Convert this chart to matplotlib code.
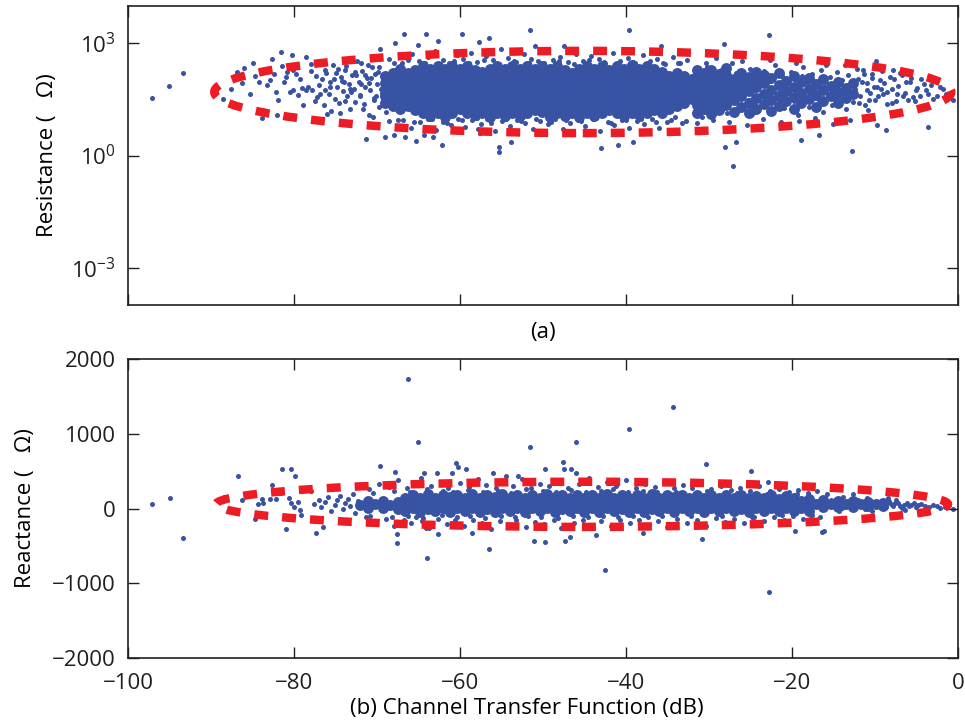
import matplotlib
matplotlib.use("Agg")
import matplotlib.pyplot as plt
from matplotlib.patches import Ellipse
from matplotlib.ticker import NullLocator

# (a) scattered single measurements: channel transfer function (dB) vs resistance (ohm)
top_db = [
    -97.1, -95.0, -93.4, -88.5, -86.9, -86.2, -84.7, -84.2, -83.7, -83.8,
    -82.9, -82.7, -82.2, -81.6, -81.5, -80.9, -80.8, -80.2, -80.1, -79.8,
    -80.5, -80.1, -79.5, -79.0, -78.6, -80.7, -78.0, -77.4, -77.8, -77.5,
    -77.0, -76.6, -76.4, -76.1, -75.8, -75.6, -75.3, -75.0, -74.8, -74.5,
    -74.3, -74.1, -73.9, -73.6, -73.4, -73.2, -73.0, -72.8, -72.6, -72.4,
    -72.2, -72.0, -71.8, -71.6, -71.4, -71.2, -71.0, -70.8, -70.6, -70.4,
    -70.2, -70.0, -69.8, -69.6, -69.4, -69.2, -71.3, -69.0, -68.0, -66.6,
    -67.8, -66.7, -65.0, -64.1, -62.7, -59.8, -57.7, -56.5, -65.3, -64.3,
    -63.2, -62.2, -57.8, -57.6, -55.3, -55.3, -53.8, -51.6, -51.0, -47.5,
    -43.0, -41.0, -39.2, -39.6, -35.8, -28.2, -28.1, -26.8, -27.1, -22.8,
    -18.9, -16.7, -12.8, -16.4, -13.6, -9.9, -9.8, -8.7, -3.6, -0.6,
    -68.5, -67.0, -65.8, -64.9, -63.9, -63.0, -62.1, -61.3, -60.4, -59.6,
    -58.7, -57.9, -56.9, -56.0, -55.0, -54.2, -53.3, -52.3, -51.4, -50.6,
    -49.7, -48.8, -47.9, -47.0, -46.0, -45.2, -44.2, -43.3, -42.5, -41.6,
    -40.7, -39.8, -38.9, -38.0, -37.1, -36.2, -35.3, -34.3, -33.5, -32.6,
    -68.6, -67.6, -66.9, -65.9, -64.8, -63.8, -62.9, -62.0, -61.1, -60.2,
    -59.4, -58.5, -57.5, -56.7, -55.8, -54.9, -54.0, -53.1, -52.2, -51.2,
    -50.3, -49.4, -48.5, -47.6, -46.7, -45.8, -44.9, -44.0, -43.1, -42.2,
    -41.4, -40.5, -39.6, -38.7, -37.8, -36.9, -36.0, -35.0, -34.1, -33.2,
    -31.6, -31.3, -31.0, -30.8, -30.5, -30.2, -30.0, -29.7, -29.4, -29.1,
    -28.9, -28.6, -28.3, -28.0, -27.8, -27.5, -27.2, -27.0, -26.7, -26.4,
    -26.2, -25.9, -25.6, -25.3, -25.1, -24.8, -24.5, -24.2, -24.0, -23.7,
    -23.4, -23.1, -22.9, -22.6, -22.3, -22.0, -21.8, -21.5, -21.2, -20.9,
    -20.7, -20.4, -20.1, -19.8, -19.6, -19.3, -19.0, -18.7, -18.5, -18.2,
    -17.9, -17.6, -17.4, -17.1, -16.8, -16.5, -16.3, -16.0, -15.7, -15.4,
    -15.2, -14.9, -14.6, -14.3, -14.0, -13.8, -13.5, -13.2, -12.9, -12.7,
    -12.4, -12.1, -11.8, -11.5, -11.2, -10.9, -10.6, -10.3, -10.0, -9.7,
    -9.4, -9.0, -8.6, -8.2, -7.9, -7.5, -7.4, -7.0, -6.6, -6.3,
    -6.0, -5.4, -5.0, -4.9, -4.4, -3.6, -3.2, -2.5, -1.8, -1.0,
    -31.1, -29.9, -28.4, -27.1, -25.8, -24.4, -23.0, -21.6, -20.2, -18.8,
    -17.5, -16.1, -14.8, -13.3, -30.4, -29.2, -26.0, -22.7, -19.5, -15.9,
    -31.5, -29.5, -27.6, -25.4, -23.5, -21.3, -19.2, -17.2, -15.1, -13.0,
    -67.9, -66.2, -64.2, -62.4, -60.7, -58.9, -57.1, -55.3, -53.5, -51.7,
    -49.9, -48.1, -46.3, -44.5, -42.7, -40.9, -39.1, -37.3, -35.5, -33.7,
    -67.5, -65.5, -63.4, -61.6, -59.8, -58.0, -56.2, -54.4, -52.6, -50.8,
    -49.0, -47.2, -45.4, -43.6, -41.8, -40.0, -38.2, -36.4, -34.6, -32.8,
    -76.9, -76.3, -75.7, -75.2, -74.6, -74.0, -73.3, -72.7, -72.1, -71.5,
    -70.9, -70.3, -69.7, -69.5, -68.9, -73.7, -71.9, -70.5, -76.0, -74.9,
    -87.6, -86.0, -85.3, -84.9, -83.2, -82.4, -81.9, -81.2, -80.4, -79.3,
    -78.9, -78.3, -77.9, -77.2, -76.7, -76.2, -75.5, -74.7, -74.2, -73.8,
    -73.1, -72.5, -71.9, -71.7, -71.1, -70.7, -70.1, -69.9, -78.5, -82.0,
    -11.9, -11.6, -11.3, -11.0, -10.7, -10.4, -10.1, -9.6, -9.2, -8.9,
    -8.5, -8.0, -7.7, -7.2, -6.8, -6.4, -5.8, -5.2, -4.6, -4.1,
    -3.8, -3.0, -2.8, -2.2, -1.4, -12.2, -10.8, -9.3, -7.8, -5.6,
]
top_res = [
    35, 74, 166, 32, 170, 87, 138, 91, 16.6, 10.2,
    102, 390, 51, 600, 245, 126, 170, 500, 190, 148,
    50, 55, 41, 65, 58, 10, 288, 131, 55, 28,
    75, 110, 22, 160, 44, 90, 260, 33, 68, 14,
    125, 52, 200, 38, 82, 18, 145, 62, 27, 330,
    95, 42, 180, 24, 70, 120, 12, 56, 230, 34,
    150, 80, 20, 690, 48, 105, 2.8, 3.2, 3.5, 3.1,
    1050, 1740, 920, 1740, 1150, 1780, 1110, 1390, 2.4, 3.6,
    3.1, 1.95, 5.1, 4.0, 1.74, 1.23, 2.3, 2290, 830, 830,
    1.6, 1.9, 2.3, 2290, 830, 955, 1.74, 2.3, 0.54, 1700,
    2.6, 3.6, 1.35, 350, 260, 340, 6.4, 4.8, 5.9, 30,
    380, 300, 520, 330, 420, 610, 350, 300, 480, 390,
    550, 320, 450, 360, 700, 400, 310, 520, 380, 330,
    600, 360, 420, 310, 530, 340, 450, 380, 300, 560,
    340, 410, 300, 480, 330, 390, 280, 440, 300, 350,
    8.5, 6.2, 9.0, 5.5, 7.8, 9.5, 4.8, 8.0, 6.5, 9.2,
    5.8, 8.8, 7.0, 9.6, 4.5, 8.2, 6.0, 9.0, 7.4, 5.2,
    8.6, 6.8, 9.3, 5.0, 7.6, 8.9, 6.2, 9.4, 4.6, 7.9,
    6.4, 9.1, 5.6, 8.3, 7.0, 9.6, 5.4, 8.1, 10.5, 7.2,
    24, 150, 60, 11, 95, 230, 38, 130, 17, 72,
    44, 190, 27, 105, 14, 65, 290, 36, 160, 52,
    21, 88, 120, 31, 210, 13, 58, 140, 40, 76,
    180, 25, 48, 100, 16, 260, 68, 33, 135, 19,
    85, 46, 170, 28, 110, 12, 62, 230, 37, 90,
    20, 150, 54, 75, 30, 200, 15, 95, 42, 125,
    23, 66, 175, 35, 105, 50, 18, 140, 80, 27,
    60, 115, 40, 190, 22, 85, 48, 150, 31, 70,
    105, 45, 24, 130, 62, 29, 45, 160, 38, 91,
    30, 36, 58, 65, 110, 45, 75, 40, 60, 35,
    40, 20, 70, 110, 55, 26, 140, 50, 60, 135,
    100, 70, 37, 60, 300, 400, 330, 350, 300, 260,
    7.5, 9.0, 8.0, 6.6, 9.5, 7.8, 8.5, 9.8, 7.0, 9.0,
    290, 350, 300, 280, 330, 290, 370, 285, 340, 295,
    300, 330, 285, 360, 310, 290, 320, 280, 300, 290,
    9.0, 8.0, 9.5, 7.2, 8.8, 9.8, 7.5, 9.2, 8.3, 9.6,
    7.8, 9.1, 8.6, 9.9, 7.4, 8.9, 9.4, 8.1, 9.0, 8.5,
    45, 190, 70, 115, 25, 95, 60, 170, 40, 140,
    85, 30, 240, 62, 15, 250, 300, 11, 13, 160,
    60, 220, 45, 300, 75, 150, 30, 95, 240, 110,
    22, 70, 180, 36, 320, 58, 16, 210, 100, 28,
    50, 145, 80, 18, 260, 120, 40, 175, 420, 12,
    25, 90, 150, 55, 30, 120, 70, 38, 180, 85,
    50, 26, 110, 72, 140, 48, 95, 28, 40, 80,
    55, 32, 100, 70, 45, 210, 17, 60, 200, 120,
]

# (a) dense cloud: one line per band of resistance, then the looser part right of -32 dB
top_core_db = [
    -63.6, -61.8, -58.2, -56.4, -54.6, -52.8, -49.2, -47.4, -45.6, -43.8, -40.2, -38.4,
    -67.2, -65.4, -63.6, -61.8, -60.0, -58.2, -56.4, -54.6, -52.8, -51.0, -49.2, -47.4, -45.6, -43.8, -42.0, -40.2, -38.4, -36.6, -34.8,
    -69.0, -67.2, -65.4, -63.6, -61.8, -60.0, -58.2, -56.4, -54.6, -52.8, -51.0, -49.2, -47.4, -45.6, -43.8, -42.0, -40.2, -38.4, -36.6, -34.8, -33.0,
    -69.0, -67.2, -65.4, -63.6, -61.8, -60.0, -58.2, -56.4, -54.6, -52.8, -51.0, -49.2, -47.4, -45.6, -43.8, -42.0, -40.2, -38.4, -36.6, -34.8, -33.0,
    -69.0, -67.2, -65.4, -63.6, -61.8, -60.0, -58.2, -56.4, -54.6, -52.8, -51.0, -49.2, -47.4, -45.6, -43.8, -42.0, -40.2, -38.4, -36.6, -34.8, -33.0,
    -69.0, -67.2, -65.4, -63.6, -61.8, -60.0, -58.2, -56.4, -54.6, -52.8, -51.0, -49.2, -47.4, -45.6, -43.8, -42.0, -40.2, -38.4, -36.6, -34.8, -33.0,
    -69.0, -67.2, -65.4, -63.6, -61.8, -60.0, -58.2, -56.4, -54.6, -52.8, -51.0, -49.2, -47.4, -45.6, -43.8, -42.0, -40.2, -38.4, -36.6, -34.8, -33.0,
    -67.2, -65.4, -63.6, -61.8, -60.0, -58.2, -56.4, -54.6, -52.8, -51.0, -49.2, -47.4, -45.6, -43.8, -42.0, -40.2, -38.4, -36.6,
    -64.5, -62.7, -60.9, -59.1, -57.3, -55.5, -53.7, -51.9, -50.1, -48.3, -46.5, -44.7, -42.9, -41.1, -39.3, -37.5, -35.7,
    -68.1, -66.3, -64.5, -62.7, -60.9, -59.1, -57.3, -55.5, -53.7, -51.9, -50.1, -48.3, -46.5, -44.7, -42.9, -41.1, -39.3, -37.5, -35.7, -33.9,
    -68.1, -66.3, -64.5, -62.7, -60.9, -59.1, -57.3, -55.5, -53.7, -51.9, -50.1, -48.3, -46.5, -44.7, -42.9, -41.1, -39.3, -37.5, -35.7, -33.9, -32.1,
    -68.1, -66.3, -64.5, -62.7, -60.9, -59.1, -57.3, -55.5, -53.7, -51.9, -50.1, -48.3, -46.5, -44.7, -42.9, -41.1, -39.3, -37.5, -35.7, -33.9, -32.1,
    -68.1, -66.3, -64.5, -62.7, -60.9, -59.1, -57.3, -55.5, -53.7, -51.9, -50.1, -48.3, -46.5, -44.7, -42.9, -41.1, -39.3, -37.5, -35.7, -33.9, -32.1,
    -68.1, -66.3, -64.5, -62.7, -60.9, -59.1, -57.3, -55.5, -53.7, -51.9, -50.1, -48.3, -46.5, -44.7, -42.9, -41.1, -39.3, -37.5, -35.7, -33.9, -32.1,
    -68.1, -66.3, -64.5, -62.7, -60.9, -59.1, -57.3, -55.5, -53.7, -51.9, -50.1, -48.3, -46.5, -44.7, -42.9, -41.1, -39.3, -37.5, -35.7, -33.9,
    -64.5, -62.7, -60.9, -59.1, -55.5, -53.7, -51.9, -50.1, -48.3, -44.7, -42.9, -41.1, -39.3, -37.5,
    -31.5, -31.5, -31.5, -31.5, -31.5, -31.5, -31.5,
    -30.6, -30.6, -30.6, -30.6, -30.6, -30.6,
    -29.7, -29.7, -29.7, -29.7, -29.7, -29.7, -29.7,
    -28.8, -28.8, -28.8, -28.8, -28.8, -28.8,
    -27.9, -27.9, -27.9, -27.9, -27.9, -27.9,
    -27.0, -27.0, -27.0, -27.0, -27.0,
    -26.1, -26.1, -26.1, -26.1, -26.1,
    -25.2, -25.2, -25.2, -25.2, -25.2,
    -24.3, -24.3, -24.3, -24.3, -24.3,
    -23.4, -23.4, -23.4, -23.4,
    -22.5, -22.5, -22.5, -22.5,
    -21.6, -21.6, -21.6, -21.6,
    -20.7, -20.7, -20.7,
    -19.8, -19.8, -19.8, -19.8,
    -18.9, -18.9, -18.9,
    -18.0, -18.0, -18.0,
    -17.1, -17.1, -17.1,
    -16.2, -16.2, -16.2,
    -15.3, -15.3,
    -14.4, -14.4, -14.4,
    -13.5, -13.5,
    -12.6, -12.6,
]
top_core_res = [
    11.5, 11.0, 11.8, 10.8, 11.2, 11.6, 10.9, 11.3, 11.0, 11.7, 11.4, 11.9,
    17.5, 16.8, 17.2, 16.5, 17.8, 17.0, 16.6, 17.4, 17.1, 16.9, 17.6, 16.7, 17.3, 17.0, 16.8, 17.5, 17.2, 16.9, 17.4,
    26, 25.2, 25.8, 26.3, 25.5, 25.9, 25.1, 26.2, 25.6, 25.4, 26.0, 25.7, 25.3, 26.1, 25.8, 25.5, 26.4, 25.2, 25.9, 26.0, 25.6,
    39, 38.4, 39.5, 38.8, 39.2, 38.6, 39.7, 38.9, 38.3, 39.4, 39.0, 38.7, 39.3, 38.5, 39.6, 38.9, 39.1, 38.6, 39.4, 38.8, 39.2,
    59, 58.2, 59.6, 58.8, 59.3, 58.5, 60.0, 58.9, 58.1, 59.4, 59.1, 58.6, 59.8, 58.4, 59.2, 58.7, 59.5, 58.3, 59.0, 58.9, 59.7,
    89, 88.2, 90.0, 88.6, 89.5, 88.9, 90.3, 89.1, 88.4, 89.7, 89.2, 88.7, 90.1, 88.5, 89.4, 88.8, 89.9, 88.3, 89.6, 89.0, 89.3,
    135, 133, 137, 134, 136, 132, 138, 135, 133, 136, 134, 137, 135, 132, 136, 134, 138, 133, 135, 136, 134,
    204, 200, 208, 202, 206, 199, 210, 203, 201, 207, 205, 198, 209, 204, 200, 206, 202, 208,
    13.8, 13.5, 14.1, 13.6, 14.0, 13.7, 13.9, 13.4, 14.2, 13.8, 13.6, 14.0, 13.5, 13.9, 13.7, 14.1, 13.8,
    21, 20.6, 21.3, 20.8, 21.1, 20.5, 21.4, 20.9, 20.7, 21.2, 20.8, 21.0, 20.6, 21.3, 20.9, 21.1, 20.7, 21.2, 20.8, 21.0,
    31.6, 31.0, 32.2, 31.4, 31.8, 31.1, 32.0, 31.5, 31.2, 31.9, 31.6, 31.3, 32.1, 31.0, 31.7, 31.4, 31.9, 31.2, 31.8, 31.5, 31.6,
    48, 47.3, 48.5, 47.7, 48.2, 47.5, 48.6, 47.9, 47.4, 48.3, 48.0, 47.6, 48.4, 47.2, 48.1, 47.8, 48.5, 47.5, 48.0, 47.7, 48.2,
    72, 71.5, 73.1, 72.2, 72.8, 71.8, 73.0, 72.4, 71.6, 72.9, 72.5, 71.9, 73.2, 72.0, 72.7, 72.1, 73.0, 71.7, 72.6, 72.3, 72.8,
    110, 108, 112, 109, 111, 108, 113, 110, 109, 112, 110, 108, 111, 109, 112, 110, 113, 108, 111, 109, 110,
    166, 163, 169, 165, 168, 162, 170, 166, 164, 168, 165, 167, 163, 169, 166, 164, 168, 165, 167, 166,
    251, 246, 255, 249, 253, 247, 256, 250, 248, 254, 252, 245, 257, 250,
    14, 22, 35, 55, 85, 130, 200,
    18, 28, 44, 68, 105, 165,
    13, 21, 33, 52, 80, 125, 190,
    17, 27, 42, 65, 100, 155,
    23, 36, 58, 90, 140, 215,
    15, 30, 48, 75, 115,
    20, 40, 62, 98, 160,
    14, 26, 52, 82, 130,
    18, 34, 70, 110, 175,
    24, 45, 88, 140,
    16, 30, 58, 120,
    21, 40, 75, 160,
    28, 52, 100,
    18, 36, 68, 135,
    25, 48, 92,
    32, 60, 120,
    20, 42, 80,
    28, 55, 110,
    38, 72,
    25, 50, 95,
    35, 65,
    45, 85,
]

# (b) scattered single measurements: reactance (ohm)
bot_db = [
    -66.2, -65.0, -34.3, -39.6, -46.0, -51.6, -30.3, -42.5, -22.8, -56.5,
    -64.0, -93.4, -97.1, -94.9, -86.8, -81.5, -80.3, -79.9, -69.6, -67.6,
    -67.6, -88.4, -86.2, -84.3, -83.8, -83.7, -84.7, -82.7, -82.9, -82.2,
    -81.6, -81.0, -80.6, -80.4, -80.0, -79.5, -79.3, -79.1, -78.0, -77.3,
    -76.5, -77.6, -77.0, -76.8, -76.2, -75.9, -75.5, -75.1, -74.8, -74.4,
    -74.1, -73.8, -73.5, -73.2, -72.9, -72.6, -72.3, -67.8, -60.5, -60.2,
    -59.3, -47.6, -47.5, -49.8, -64.3, -62.8, -60.9, -56.0, -54.4, -53.0,
    -51.1, -49.7, -47.4, -46.8, -62.7, -58.6, -64.1, -65.3, -43.6, -37.9,
    -30.8, -19.6, -16.4, -16.1, -12.7, -8.4, -24.9, -22.9, -46.6, -46.0,
    -71.0, -69.8, -68.6, -67.5, -66.4, -65.6, -64.7, -63.5, -62.3, -61.4,
    -60.0, -58.9, -57.8, -56.9, -55.7, -54.8, -53.6, -52.5, -51.5, -50.4,
    -49.3, -48.2, -47.0, -45.6, -44.5, -43.4, -42.3, -41.2, -40.0, -38.8,
    -37.7, -36.5, -35.4, -34.2, -33.1, -32.0, -30.9, -29.8, -28.6, -27.4,
    -26.3, -25.1, -24.0, -22.7, -21.6, -20.4, -19.3, -18.1, -17.0, -15.8,
    -71.3, -70.1, -68.9, -67.9, -66.7, -65.9, -64.6, -63.7, -62.6, -61.6,
    -60.6, -59.5, -58.4, -57.4, -56.3, -55.2, -54.1, -53.2, -52.0, -50.9,
    -49.9, -48.7, -47.8, -46.3, -45.2, -44.1, -43.0, -41.8, -40.7, -39.5,
    -38.4, -37.2, -36.1, -35.0, -33.8, -32.7, -31.5, -30.4, -29.2, -28.1,
    -27.0, -25.8, -24.6, -23.4, -22.2, -21.0, -19.9, -18.7, -17.6, -16.6,
    -15.3, -14.8, -14.3, -13.8, -13.2, -12.6, -12.0, -11.5, -11.0, -10.4,
    -9.9, -9.4, -8.9, -8.3, -7.8, -7.2, -6.7, -6.1, -5.6, -5.0,
    -4.5, -4.0, -3.5, -3.0, -2.5, -2.2, -1.6, -0.6, -7.5, -6.4,
    -15.0, -14.5, -14.0, -13.5, -13.0, -12.3, -11.8, -11.2, -10.7, -10.1,
    -9.6, -9.2, -8.7, -8.1, -7.6, -7.0, -6.5, -5.9, -5.3, -4.8,
    -70.5, -68.0, -66.0, -64.0, -62.0, -60.8, -59.0, -57.2, -55.4, -53.8,
    -52.0, -50.0, -48.4, -46.6, -44.8, -43.0, -41.6, -39.8, -38.0, -36.2,
    -70.8, -68.2, -66.2, -64.4, -62.2, -60.4, -58.8, -57.0, -55.0, -53.4,
    -51.8, -50.2, -48.2, -46.4, -44.6, -42.8, -41.0, -39.2, -37.4, -35.6,
    -34.0, -32.2, -30.2, -28.4, -26.6, -24.8, -23.0, -21.2, -19.4, -17.8,
]
bot_reac = [
    1730, 893, 1358, 1064, 885, 827, 595, -823, -1117, -542,
    -666, -395, 60, 140, 440, 530, 533, 440, 570, -458,
    -346, 150, 113, 60, 125, 80, -145, 313, 127, 127,
    210, -275, 136, 70, 16, 91, -20, -87, 234, -330,
    -252, 60, 120, 20, 85, 150, -30, 45, 110, 170,
    -10, 75, 130, 30, 200, -60, 95, 493, 605, 560,
    524, 618, 528, 528, 470, 470, 470, 470, 440, 440,
    -431, -444, -435, -385, -342, -333, -257, -118, -355, -323,
    -412, -297, -319, -297, 194, 136, 506, 350, 533, 470,
    260, 330, 290, 380, 270, 320, 410, 300, 360, 280,
    340, 290, 400, 310, 270, 360, 300, 390, 280, 330,
    300, 370, 280, 330, 410, 290, 350, 300, 380, 270,
    330, 290, 360, 280, 310, 270, 340, 260, 300, 250,
    280, 240, 300, 230, 260, 220, 250, 210, 230, 200,
    -120, -180, -140, -230, -150, -200, -170, -260, -140, -210,
    -160, -240, -150, -200, -280, -170, -220, -150, -250, -180,
    -210, -160, -260, -190, -150, -230, -170, -240, -160, -200,
    -150, -220, -170, -250, -140, -190, -160, -230, -130, -180,
    -140, -200, -120, -170, -110, -150, -100, -140, -90, -120,
    120, 30, -40, 160, 80, -10, 110, 50, 140, -30,
    90, 20, 60, 100, 30, 70, 10, 80, 50, 25,
    60, 40, 20, 50, 35, 2, 15, -8, 120, -20,
    60, 90, 10, 50, 120, 40, 70, -5, 95, 55,
    45, 75, 15, 55, 80, 40, 45, 30, 70, 45,
    210, 240, 220, 260, 230, 215, 250, 225, 240, 210,
    265, 230, 220, 245, 215, 235, 260, 225, 240, 215,
    -95, -110, -100, -125, -90, -115, -105, -130, -95, -120,
    -100, -115, -125, -95, -110, -105, -120, -100, -115, -95,
    220, -105, 235, -95, 210, -110, 200, -90, 190, -85,
]

# (b) dense band, one line per band of reactance
bot_core_db = [
    -66.6, -64.8, -63.0, -61.2, -59.4, -57.6, -55.8, -54.0, -52.2, -50.4, -48.6, -46.8, -45.0, -43.2, -41.4, -39.6, -37.8, -36.0, -34.2, -32.4, -30.6, -28.8, -27.0, -25.2, -23.4, -21.6, -19.8, -18.0,
    -70.2, -68.4, -66.6, -64.8, -63.0, -61.2, -59.4, -57.6, -55.8, -54.0, -52.2, -50.4, -48.6, -46.8, -45.0, -43.2, -41.4, -39.6, -37.8, -36.0, -34.2, -32.4, -30.6, -28.8, -27.0, -25.2, -23.4, -21.6, -19.8, -18.0,
    -66.6, -64.8, -63.0, -61.2, -59.4, -57.6, -55.8, -54.0, -52.2, -50.4, -48.6, -46.8, -45.0, -43.2, -41.4, -39.6, -37.8, -36.0, -34.2, -32.4, -30.6, -28.8, -27.0, -25.2, -23.4, -21.6, -19.8, -18.0,
    -69.3, -67.5, -65.7, -63.9, -62.1, -60.3, -58.5, -56.7, -54.9, -53.1, -51.3, -49.5, -47.7, -45.9, -44.1, -42.3, -40.5, -38.7, -36.9, -35.1, -33.3, -31.5, -29.7, -27.9, -26.1, -24.3, -22.5, -20.7, -18.9,
    -69.3, -67.5, -65.7, -63.9, -62.1, -60.3, -58.5, -56.7, -54.9, -53.1, -51.3, -49.5, -47.7, -45.9, -44.1, -42.3, -40.5, -38.7, -36.9, -35.1, -33.3, -31.5, -29.7, -27.9, -26.1, -24.3, -22.5, -20.7, -18.9,
    -65.7, -63.9, -62.1, -60.3, -58.5, -56.7, -54.9, -53.1, -51.3, -49.5, -47.7, -45.9, -44.1, -42.3, -40.5, -38.7, -36.9, -35.1, -33.3, -31.5, -29.7, -27.9, -26.1, -24.3, -22.5, -20.7,
    -16.2, -14.4, -12.6, -10.8, -9.0,
    -16.2, -14.4, -12.6, -10.8, -9.0,
    -17.1, -15.3, -13.5, -11.7, -9.9,
    -72.0, -71.1, -71.1,
]
bot_core_reac = [
    -35, -45, -40, -50, -38, -42, -48, -36, -44, -40, -52, -38, -46, -41, -35, -47, -43, -39, -50, -37, -44, -40, -34, -45, -38, -30, -36, -28,
    55, 48, 52, 45, 58, 50, 47, 53, 49, 56, 44, 51, 57, 46, 52, 48, 55, 50, 43, 54, 49, 51, 46, 53, 48, 50, 45, 52, 47, 50,
    135, 145, 140, 150, 138, 142, 148, 136, 144, 140, 152, 138, 146, 141, 135, 147, 143, 139, 150, 137, 144, 140, 134, 145, 138, 130, 136, 128,
    8, 0, 5, -3, 10, 2, 6, -5, 4, 9, 1, 7, -2, 5, 3, 8, 0, 6, -4, 4, 10, 2, 5, 7, 0, 9, 3, 12, 8,
    98, 90, 95, 88, 100, 92, 96, 86, 94, 99, 91, 97, 89, 95, 93, 98, 90, 96, 87, 94, 100, 92, 95, 97, 90, 99, 93, 102, 98,
    180, 190, 185, 178, 192, 183, 188, 176, 186, 191, 181, 187, 179, 189, 184, 177, 190, 182, 186, 175, 183, 178, 180, 172, 176, 170,
    15, 25, 20, 30, 28,
    110, 95, 100, 88, 80,
    65, 55, 62, 58, 54,
    50, 10, 95,
]

# red dashed ellipses: centre (dB, value), full width (dB), full height
top_ell_center = (-45.2, 1.70)   # height in decades of resistance
top_ell_size = (88.8, 2.2)
bot_ell_center = (-45.3, 56)
bot_ell_size = (88.2, 604)

for a, b in [(top_db, top_res), (top_core_db, top_core_res),
             (bot_db, bot_reac), (bot_core_db, bot_core_reac)]:
    assert len(a) == len(b), (len(a), len(b))

plt.rcParams['font.family'] = ['Open Sans', 'DejaVu Sans']
plt.rcParams['mathtext.fontset'] = 'custom'
plt.rcParams['mathtext.rm'] = 'Open Sans'
plt.rcParams['font.size'] = 16

blue = '#3953a4'
red = '#ed1c24'
ink = '#231f20'
dot_s = 13
core_s = 62

fig = plt.figure(figsize=(9.65, 7.27), dpi=100)
ax1 = fig.add_axes([0.1326, 0.5805, 0.8601, 0.4112])
ax2 = fig.add_axes([0.1326, 0.0949, 0.8601, 0.4113])

ax1.scatter(top_core_db, top_core_res, s=core_s, c=blue, linewidths=0)
ax1.scatter(top_db, top_res, s=dot_s, c=blue, linewidths=0)
ax1.set_yscale('log')
ax1.set_ylim(1e-4, 1e4)
ax1.set_xlim(-100, 0)
ax1.set_yticks([1e-3, 1, 1e3])
ax1.set_yticklabels([r'$\mathregular{10^{-3}}$', r'$\mathregular{10^{0}}$',
                     r'$\mathregular{10^{3}}$'])
ax1.yaxis.set_minor_locator(NullLocator())
ax1.set_xticks([-100, -80, -60, -40, -20, 0])
ax1.tick_params(labelbottom=False)
ax1.set_ylabel('Resistance (   Ω)', labelpad=9)
ax1.set_xlabel('(a)', labelpad=12)

# ellipse for (a) is drawn in log10 space on an overlay
ov = fig.add_axes(ax1.get_position())
ov.set_xlim(-100, 0)
ov.set_ylim(-4, 4)
ov.axis('off')
ov.add_patch(Ellipse(top_ell_center, top_ell_size[0], top_ell_size[1],
                     fill=False, edgecolor=red, linewidth=6.1,
                     linestyle=(0, (1.65, 1.65))))

ax2.scatter(bot_core_db, bot_core_reac, s=core_s, c=blue, linewidths=0)
ax2.scatter(bot_db, bot_reac, s=dot_s, c=blue, linewidths=0)
ax2.add_patch(Ellipse(bot_ell_center, bot_ell_size[0], bot_ell_size[1],
                      fill=False, edgecolor=red, linewidth=6.1,
                      linestyle=(0, (1.65, 1.65)), zorder=5))
ax2.set_xlim(-100, 0)
ax2.set_ylim(-2000, 2000)
ax2.set_xticks([-100, -80, -60, -40, -20, 0])
ax2.set_yticks([-2000, -1000, 0, 1000, 2000])
ax2.set_ylabel('Reactance (   Ω)', labelpad=11)
ax2.set_xlabel('(b) Channel Transfer Function (dB)', labelpad=3)
ax2.xaxis.label.set_x(0.481)

for ax in (ax1, ax2):
    ax.tick_params(direction='in', length=8, width=1, top=True, right=True,
                   color=ink, labelcolor=ink)
    ax.tick_params(axis='y', pad=9)
    ax.tick_params(axis='x', pad=11)
    for sp in ax.spines.values():
        sp.set_linewidth(1.2)
        sp.set_color(ink)

fig.savefig('out.png', dpi=100)
